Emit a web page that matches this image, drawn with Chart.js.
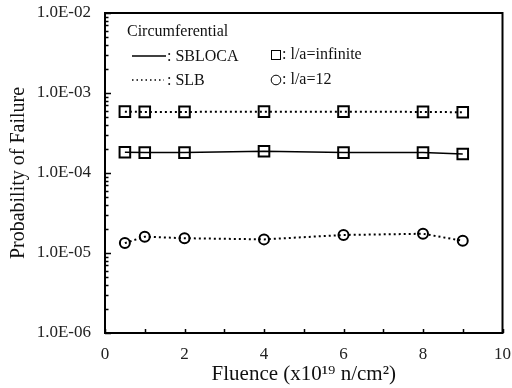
<!DOCTYPE html>
<html>
<head>
<meta charset="utf-8">
<script src="https://cdn.jsdelivr.net/npm/chart.js@4"></script>
<style>
  html, body { margin: 0; padding: 0; background: #fff; }
  #wrap { width: 512px; height: 388px; }
</style>
</head>
<body>
<div id="wrap"><canvas id="context"></canvas></div>
<script>
// fluence values (x10^19 n/cm^2)
const fluence = [0.5, 1, 2, 4, 6, 8, 9];

// probability of failure
const sblocaInfinite = [1.82e-4, 1.80e-4, 1.80e-4, 1.87e-4, 1.80e-4, 1.80e-4, 1.73e-4];
const slbInfinite = [5.85e-4, 5.80e-4, 5.80e-4, 5.85e-4, 5.85e-4, 5.80e-4, 5.75e-4];
const slbTwelve = [1.33e-5, 1.60e-5, 1.53e-5, 1.48e-5, 1.68e-5, 1.74e-5, 1.42e-5];

const yMajorTicks = [1e-6, 1e-5, 1e-4, 1e-3, 1e-2];
const xTicks = [0, 1, 2, 3, 4, 5, 6, 7, 8, 9, 10];

const serif = "'Liberation Serif', 'Times New Roman', serif";

/**
 * Formats a decade value like 1.0E-04
 */
function formatDecade(value) {
  const exp = Math.round(Math.log10(value));
  const sign = exp < 0 ? '-' : '+';
  return '1.0E' + sign + String(Math.abs(exp)).padStart(2, '0');
}

function toPoints(values) {
  return fluence.map((x, i) => ({ x, y: values[i] }));
}

// frame, inward ticks and the hand drawn legend box
const framePlugin = {
  id: 'frame',
  afterDraw(chart) {
    const { ctx, chartArea: a, scales } = chart;
    ctx.save();
    ctx.strokeStyle = '#000';
    ctx.lineWidth = 1.5;

    // y ticks: major and minor, pointing inward
    ctx.beginPath();
    yMajorTicks.forEach((decade, i) => {
      const py = Math.round(scales.y.getPixelForValue(decade)) + 0.5;
      ctx.moveTo(a.left, py);
      ctx.lineTo(a.left + 6, py);
      if (i < yMajorTicks.length - 1) {
        for (let m = 2; m <= 9; m++) {
          const my = Math.round(scales.y.getPixelForValue(decade * m)) + 0.5;
          ctx.moveTo(a.left, my);
          ctx.lineTo(a.left + 3.5, my);
        }
      }
    });
    // x ticks
    xTicks.forEach(v => {
      const px = Math.round(scales.x.getPixelForValue(v)) + 0.5;
      ctx.moveTo(px, a.bottom);
      ctx.lineTo(px, a.bottom - 4);
    });
    ctx.stroke();

    ctx.lineWidth = 2;
    ctx.strokeRect(a.left, a.top, a.right - a.left, a.bottom - a.top);

    // legend
    ctx.fillStyle = '#111';
    ctx.font = '16px ' + serif;
    ctx.textBaseline = 'middle';
    ctx.fillText('Circumferential', 127, 32);

    ctx.lineWidth = 1.5;
    ctx.beginPath();
    ctx.moveTo(132, 56);
    ctx.lineTo(166, 56);
    ctx.stroke();
    ctx.fillText(': SBLOCA', 167, 57);

    ctx.lineWidth = 1.5;
    ctx.setLineDash([1.5, 3]);
    ctx.beginPath();
    ctx.moveTo(132, 80);
    ctx.lineTo(164, 80);
    ctx.stroke();
    ctx.setLineDash([]);
    ctx.fillText(': SLB', 167, 81);

    ctx.lineWidth = 1;
    ctx.strokeRect(271.5, 50.5, 9, 9);
    ctx.fillText(': l/a=infinite', 282, 55);

    ctx.beginPath();
    ctx.arc(276, 80, 4.8, 0, Math.PI * 2);
    ctx.stroke();
    ctx.fillText(': l/a=12', 282, 80);

    ctx.restore();
  }
};

function init() {
  const ctx = document.getElementById('context');

  const markerStyle = {
    borderColor: '#000',
    backgroundColor: 'rgba(0,0,0,0)',
    pointBorderColor: '#000',
    pointBackgroundColor: 'rgba(0,0,0,0)',
    pointBorderWidth: 2,
    showLine: true,
    tension: 0
  };

  const data = {
    datasets: [
      {
        ...markerStyle,
        label: 'SBLOCA, l/a=infinite',
        data: toPoints(sblocaInfinite),
        borderWidth: 1.5,
        pointStyle: 'rect',
        pointRadius: 7.5
      },
      {
        ...markerStyle,
        label: 'SLB, l/a=infinite',
        data: toPoints(slbInfinite),
        borderWidth: 2,
        borderDash: [2, 3],
        pointStyle: 'rect',
        pointRadius: 7.5
      },
      {
        ...markerStyle,
        label: 'SLB, l/a=12',
        data: toPoints(slbTwelve),
        borderWidth: 2,
        borderDash: [2, 3],
        pointStyle: 'circle',
        pointRadius: 5
      }
    ]
  };

  new Chart(ctx, {
    type: 'scatter',
    data,
    plugins: [framePlugin],
    options: {
      responsive: true,
      maintainAspectRatio: false,
      animation: false,
      layout: { padding: { top: 13, right: 9, left: 0, bottom: 0 } },
      plugins: {
        legend: { display: false },
        tooltip: { enabled: false }
      },
      scales: {
        x: {
          type: 'linear',
          min: 0,
          max: 10,
          afterFit: scale => {
            scale.height = 55;
            scale.paddingLeft = 0;
            scale.paddingRight = 0;
          },
          grid: { display: false, drawTicks: false },
          border: { display: false },
          ticks: {
            stepSize: 1,
            padding: 11,
            color: '#222',
            font: { family: serif, size: 17 },
            maxRotation: 0,
            autoSkip: false,
            callback: v => (v % 2 === 0 ? String(v) : '')
          },
          title: {
            display: true,
            text: 'Fluence (x10\u00B9\u2079 n/cm\u00B2)',
            color: '#111',
            font: { family: serif, size: 21 },
            padding: { top: 0, bottom: 1 }
          }
        },
        y: {
          type: 'logarithmic',
          min: 1e-6,
          max: 1e-2,
          afterFit: scale => {
            scale.width = 105;
            scale.paddingTop = 0;
            scale.paddingBottom = 0;
          },
          grid: { display: false, drawTicks: false },
          border: { display: false },
          ticks: {
            padding: 14,
            color: '#222',
            autoSkip: false,
            font: { family: serif, size: 17 },
            callback: v => {
              const e = Math.log10(v);
              return Math.abs(e - Math.round(e)) < 1e-9 ? formatDecade(v) : '';
            }
          },
          title: {
            display: true,
            text: 'Probability of Failure',
            color: '#111',
            font: { family: serif, size: 20 },
            padding: { top: 7, bottom: 0 }
          }
        }
      }
    }
  });
}

init();
</script>
</body>
</html>
